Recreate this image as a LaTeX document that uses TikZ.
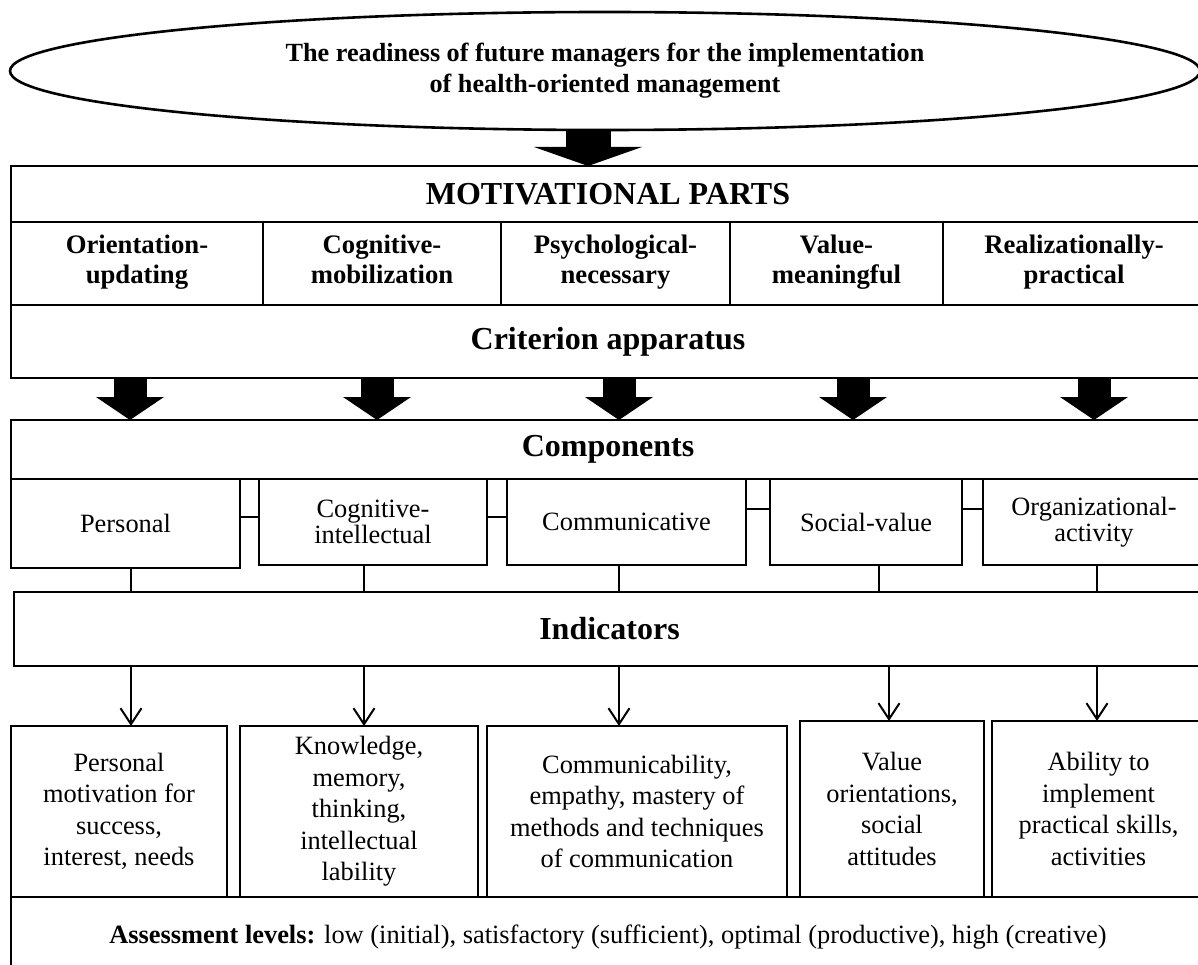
\documentclass[tikz,border=0pt]{standalone}
\usepackage{fontspec}
\setmainfont{Liberation Serif}
\usepackage{tikz}
\usetikzlibrary{
    arrows.meta,
    shapes.geometric % for the ellipse
}
\tikzset{
    blk/.style 2 args={draw,line width=2.6pt,inner sep=0pt,outer sep=0pt,align=center,
        minimum width=#1pt,minimum height=#2pt},
    titletext/.style={font=\fontsize{32}{38}\selectfont\bfseries},
    parttext/.style={font=\fontsize{26.7}{30}\selectfont\bfseries,
        execute at begin node=\strut,execute at end node=\strut},
    comptext/.style={font=\fontsize{26.4}{25.5}\selectfont},
    indtext/.style={font=\fontsize{26.4}{31.5}\selectfont},
    toparr/.style={line width=45pt,-{Triangle[width=108pt,length=19pt,line width=0pt]}},
    bigarr/.style={line width=33pt,-{Triangle[width=68pt,length=23pt,line width=0pt]}},
    link/.style={line width=2pt},
    thinarr/.style={line width=2pt,-{Straight Barb[length=16pt,width=21pt]}}
}

\begin{document}
\begin{tikzpicture}[x=1pt,y=-1pt]
        \useasboundingbox (0,0) rectangle (1198,965);

        \draw (605,71) node[ellipse,draw,line width=2.6pt,minimum width=1190pt,minimum height=118pt,align=center,
            font=\fontsize{26.2}{31}\selectfont\bfseries](goal){The readiness of future managers for the implementation\\of health-oriented management};

        \draw (608,194) node[blk={1194}{56},titletext](mot){MOTIVATIONAL PARTS};
        \draw (137,263.5) node[blk={252}{83},parttext](p1){Orientation-\\updating};
        \draw (382,263.5) node[blk={238}{83},parttext](p2){Cognitive-\\mobilization};
        \draw (615.5,263.5) node[blk={229}{83},parttext](p3){Psychological-\\necessary};
        \draw (836.5,263.5) node[blk={213}{83},parttext](p4){Value-\\meaningful};
        \draw (1074,263.5) node[blk={262}{83},parttext](p5){Realizationally-\\practical};
        \draw (608,341.5) node[blk={1194}{73},titletext](crit){Criterion apparatus};

        \draw (608,449.5) node[blk={1194}{59},titletext](comp){Components};
        \draw (125.5,523.5) node[blk={229}{89},comptext](c1){Personal};
        \draw (373,522) node[blk={228}{86},comptext](c2){Cognitive-\\intellectual};
        \draw (626.5,522) node[blk={239}{86},comptext](c3){Communicative};
        \draw (866,522) node[blk={192}{86},comptext](c4){Social-value};
        \draw (1094,522) node[blk={222}{86},comptext](c5){Organizational-\\activity};

        \draw (609.5,629) node[blk={1191}{74},titletext](ind){Indicators};
        \draw (119,811.5) node[blk={216}{171},indtext](i1){Personal\\motivation for\\success,\\interest, needs};
        \draw (359,811.5) node[blk={238}{171},indtext](i2){Knowledge,\\memory,\\thinking,\\intellectual\\lability};
        \draw (637,811.5) node[blk={300}{171},indtext](i3){Communicability,\\empathy, mastery of\\methods and techniques\\of communication};
        \draw (892,809) node[blk={184}{176},indtext](i4){Value\\orientations,\\social\\attitudes};
        \draw (1098.5,809) node[blk={213}{176},indtext](i5){Ability to\\implement\\practical skills,\\activities};
        \draw (608,937) node[blk={1194}{80},indtext](asm){\textbf{Assessment levels:} low (initial), satisfactory (sufficient), optimal (productive), high (creative)};

        \draw[toparr] (goal.south -| 588,0) -- (mot.north -| 588,0);
        \foreach \x in {130,377,619,853,1094}
            \draw[bigarr] (crit.south -| \x,0) -- (comp.north -| \x,0);

        \draw[link] (c1.east |- 0,517) -- (c2.west |- 0,517);
        \draw[link] (c2.east |- 0,517) -- (c3.west |- 0,517);
        \draw[link] (c3.east |- 0,509) -- (c4.west |- 0,509);
        \draw[link] (c4.east |- 0,509) -- (c5.west |- 0,509);
        \foreach \n/\x in {c1/131,c2/364,c3/619,c4/879,c5/1097}
            \draw[link] (\n.south -| \x,0) -- (ind.north -| \x,0);
        \foreach \n/\x in {i1/131,i2/364,i3/619,i4/889,i5/1097}
            \draw[thinarr] (ind.south -| \x,0) -- (\n.north -| \x,0);
    \end{tikzpicture}
\end{document}
